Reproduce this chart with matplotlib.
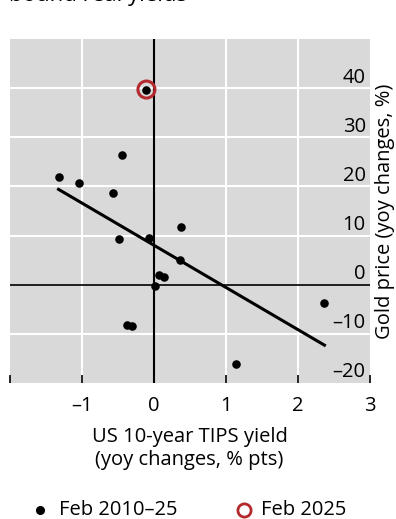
import numpy as np
import matplotlib
matplotlib.use("Agg")
import matplotlib.pyplot as plt
import matplotlib.transforms as mtransforms
from matplotlib.lines import Line2D

plt.rcParams['font.family'] = ['Open Sans', 'DejaVu Sans']

# yoy change in US 10-year TIPS yield (% pts) vs gold price (yoy %), Feb 2010-25
tips_chg = [-1.32, -1.03, -0.57, -0.44, -0.48, -0.065, 0.375, 0.365,
            0.074, 0.143, 0.023, -0.375, -0.306, 2.37, 1.14, -0.10]
gold_chg = [21.9, 20.6, 18.6, 26.3, 9.3, 9.45, 11.8, 5.0,
            1.96, 1.56, -0.27, -8.1, -8.5, -3.7, -16.05, 39.7]

# latest observation (Feb 2025)
latest_x = [-0.10]
latest_y = [39.7]

# fitted line end points
fit_x = [-1.32, 2.37]
fit_y = [19.4, -12.3]

x_ticks = [-2, -1, 0, 1, 2, 3]
x_labels = ['', '\u20131', '0', '1', '2', '3']
y_ticks = [-20, -10, 0, 10, 20, 30, 40]

red = '#b3292e'
fs = 14.5

fig = plt.figure(figsize=(3.96, 5.19), dpi=100)
ax = fig.add_axes([0.024, 0.262, 0.910, 0.663])
ax.set_facecolor('#d9d9d9')
ax.set_xlim(-2, 3)
ax.set_ylim(-20, 50)

# white grid
for gx in [-1, 1, 2]:
    ax.axvline(gx, color='white', lw=1.5, zorder=1)
for gy in [-10, 10, 20, 30, 40]:
    ax.axhline(gy, color='white', lw=1.5, zorder=1)
ax.axvline(0, color='black', lw=1.5, zorder=2)
ax.axhline(0, color='black', lw=1.2, zorder=2)

ax.plot(fit_x, fit_y, color='black', lw=2.2, zorder=3)
ax.scatter(tips_chg, gold_chg, s=38, color='black', zorder=4, linewidths=0)
ax.scatter(latest_x, latest_y, s=150, facecolors='none', edgecolors=red,
           linewidths=2.2, zorder=5)

for s in ax.spines.values():
    s.set_visible(False)

ax.set_xticks(x_ticks)
ax.set_xticklabels(x_labels)
ax.tick_params(axis='x', direction='in', length=6, width=1.2, pad=9,
               labelsize=fs, color='black')
ax.set_yticks([])

# y tick labels sit inside the plot, just above each line
off = mtransforms.offset_copy(ax.get_yaxis_transform(), fig=fig, x=-3, y=4, units='points')
for v in y_ticks:
    lab = str(v).replace('-', '\u2013')
    ax.text(1.0, v, lab, transform=off, ha='right', va='baseline', fontsize=fs)

ax.set_xlabel('US 10-year TIPS yield\n(yoy changes, % pts)', fontsize=fs,
              labelpad=8, linespacing=1.2)
ax.yaxis.set_label_position('right')
ax.set_ylabel('Gold price (yoy changes, %)', fontsize=fs, labelpad=4)

# title cut off at the top of the image
fig.text(0.022, 1.0 - 1.5 / 519, 'bound real yields', fontsize=16, va='baseline', ha='left')

# legend drawn by hand at the bottom
ly = 1 - 510 / 519
fig.add_artist(Line2D([40 / 396], [ly], marker='o', ls='', color='black',
                      markersize=5.5, transform=fig.transFigure))
fig.text(59 / 396, ly, 'Feb 2010\u201325', fontsize=fs, va='center', ha='left')
fig.add_artist(Line2D([244 / 396], [ly], marker='o', ls='', markerfacecolor='none',
                      markeredgecolor=red, markeredgewidth=2, markersize=9.5,
                      transform=fig.transFigure))
fig.text(261 / 396, ly, 'Feb 2025', fontsize=fs, va='center', ha='left')

fig.savefig('out.png', dpi=100)
